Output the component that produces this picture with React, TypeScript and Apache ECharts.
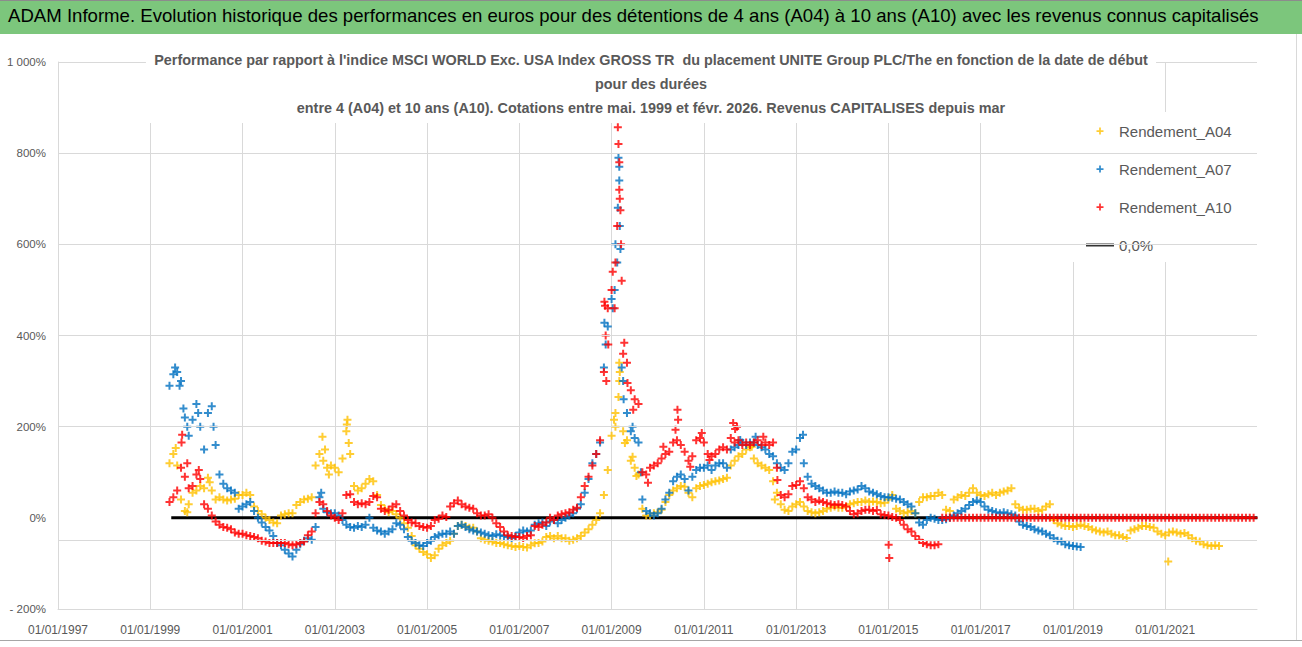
import React, { useEffect, useRef } from "react";
import * as echarts from "echarts";

// ---- Data ----
// Monthly values (%) starting June 1999
const startYear = 1999;
const startMonth = 6;

const a04Values = [
  // 1999 Jun-Dec
  120, 140, 115, 40, 15, 30, 55,
  // 2000
  60, 70, 65, 88, 60, 40, 45, 40, 38, 40, 42, 50,
  // 2001
  50, 55, 50, 25, 15, 8, 0, -5, -10, -12, 5, 8,
  // 2002
  10, 10, 28, 35, 40, 42, 45, 115, 140, 125, 110, 115,
  // 2003
  110, 100, 130, 190, 140, 70, 60, 65, 75, 85, 80, 50,
  // 2004
  28, 20, 12, 15, 8, 0, -12, -22, -40, -60, -68, -75,
  // 2005
  -80, -88, -82, -68, -60, -55, -50, -35, -18, -15, -18, -22,
  // 2006
  -22, -30, -45, -48, -50, -52, -55, -55, -58, -60, -62, -64,
  // 2007
  -62, -64, -65, -60, -56, -55, -52, -42, -40, -45, -40, -45,
  // 2008
  -45, -50, -48, -45, -40, -32, -25, -15, -5, 10, 50, 105,
  // 2009
  180, 200, 300, 190, 170, 125, 110, 95, 20, 5, 5, 10,
  // 2010
  12, 18, 35, 50, 60, 65, 70, 68, 55, 45, 65, 70,
  // 2011
  72, 75, 78, 80, 82, 85, 88, 115, 125, 135, 140, 150,
  // 2012
  155, 130, 120, 115, 110, 105, 80, 55, 30, 18, 15, 25,
  // 2013
  30, 35, 25, 15, 12, 10, 12, 15, 20, 22, 25, 22,
  // 2014
  22, 25, 30, 32, 35, 35, 38, 35, 36, 35, 32, 33,
  // 2015
  40, 50, 20, 15, 10, 12, 15, 10, 35, 45, 45, 48,
  // 2016
  48, 55, 50, 18, 15, 40, 45, 50, 48, 55, 65, 55,
  // 2017
  50, 48, 52, 55, 50, 55, 58, 60, 65, 30, 22, 18,
  // 2018
  18, 20, 20, 15, 18, 25, 30, -5, -12, -15, -18, -18,
  // 2019
  -20, -18, -15, -18, -20, -25, -28, -30, -32, -30, -35, -38,
  // 2020
  -38, -42, -44, -28, -25, -22, -18, -18, -20, -22, -30, -35,
  // 2021
  -38, -32, -30, -32, -35, -33, -38, -45, -50, -52, -58, -60,
  // 2022
  -62, -60, -62,
];

const a07Values = [
  // 1999 Jun-Dec
  290, 315, 320, 300, 220, 180, 215,
  // 2000
  250, 200, 150, 230, 245, 160, 95, 75, 65, 60, 55, 20,
  // 2001
  25, 30, 35, 15, 0, -10, -20, -28, -40, -55, -60, -70,
  // 2002
  -78, -85, -70, -58, -50, -45, -48, -20, 45, 20, 12, 10,
  // 2003
  10, 5, -5, -15, -20, -22, -18, -20, -15, 0, -22, -28,
  // 2004
  -30, -35, -30, -25, -12, -15, -25, -42, -50, -55, -60, -62,
  // 2005
  -55, -50, -42, -38, -35, -35, -30, -35, -18, -15, -20, -25,
  // 2006
  -28, -30, -32, -35, -38, -40, -36, -38, -40, -42, -44, -40,
  // 2007
  -32, -28, -30, -28, -15, -12, -10, -18, -8, -5, -12, -5,
  // 2008
  0, 5, 10, 20, 30, 55, 85, 120, 140, 165, 330, 420,
  // 2009
  480, 600, 770, 300, 230, 190, 175, 165, 40, 15, 10, 5,
  // 2010
  10, 20, 40, 55, 80, 90, 95, 85, 60, 90, 105, 110,
  // 2011
  110, 115, 105, 115, 120, 120, 110, 150, 155, 160, 165, 160,
  // 2012
  165, 165, 160, 155, 150, 140, 135, 120, 110, 105, 120, 145,
  // 2013
  150, 175, 120, 90, 75, 70, 65, 60, 55, 55, 58, 55,
  // 2014
  55, 52, 58, 60, 62, 70, 65, 58, 55, 52, 48, 45,
  // 2015
  45, 44, 42, 40, 35, 30, 25, 10, -10, -15, -5, 0,
  // 2016
  -2, -5, -5, -3, 0, 5, 10, 15, 20, 28, 35, 38,
  // 2017
  35, 25, 18, 15, 12, 10, 12, 10, 8, 5, -8, -15,
  // 2018
  -18, -20, -25, -28, -30, -35, -38, -45, -50, -52, -58, -60,
  // 2019
  -62, -63, -64,
];

const a10Values = [
  // 1999 Jun-Dec
  35, 45, 60, 110, 90, 65, 70,
  // 2000
  95, 85, 30, 20, 5, -8, -15, -20, -22, -25, -32, -35,
  // 2001
  -35, -38, -40, -42, -45, -50, -52, -55, -55, -55, -55, -55,
  // 2002
  -58, -60, -58, -55, -52, -38, -30, 10, 35, 30, 15, 5,
  // 2003
  0, -5, 10, 50, 52, 35, 30, 32, 30, 35, 48, 45,
  // 2004
  20, 15, 18, 25, 30, 15, 5, -5, -10, -12, -18, -20,
  // 2005
  -22, -18, -5, -2, 5, 2, 25, 32, 38, 30, 25, 22,
  // 2006
  20, 10, 5, 5, 8, 0, -12, -20, -30, -38, -40, -42,
  // 2007
  -42, -44, -40, -38, -18, -20, -15, -10, 0, -5, 5, 8,
  // 2008
  10, 12, 18, 22, 45, 70, 90, 115, 140, 170, 320, 460,
  // 2009
  500, 560, 780, 360, 340, 280, 260, 250, 100, 95, 110, 115,
  // 2010
  120, 130, 140, 145, 165, 170, 160, 145, 125, 135, 170, 175,
  // 2011
  165, 140, 135, 140, 150, 155, 150, 175, 165, 170, 160, 165,
  // 2012
  160, 165, 170, 160, 165, 160, 165, 110, 50, 45, 52, 70,
  // 2013
  72, 80, 65, 45, 40, 35, 38, 35, 32, 30, 28, 30,
  // 2014
  28, 25, 15, 8, 10, 15, 18, 18, 15, 17, 8, 6,
  // 2015
  5, 2, 0, -5, -15, -25, -30, -40, -48, -55, -58, -60,
  // 2016
  -60, -58, 0, 0, 0, 0, 0, 0, 0, 0, 0, 0,
  // 2017
  0, 0, 0, 0, 0, 0, 0, 0, 0, 0, 0, 0,
  // 2018
  0, 0, 0, 0, 0, 0, 0, 0, 0, 0, 0, 0,
  // 2019
  0, 0, 0, 0, 0, 0, 0, 0, 0, 0, 0, 0,
  // 2020
  0, 0, 0, 0, 0, 0, 0, 0, 0, 0, 0, 0,
  // 2021
  0, 0, 0, 0, 0, 0, 0, 0, 0, 0, 0, 0,
  // 2022
  0, 0, 0, 0, 0, 0, 0, 0, 0, 0, 0, 0,
];

// Isolated points and band edges (date, %)
const a04Extra: [string, number][] = [
  ["1999-07-20", 153], ["1999-10-20", 12], ["2000-04-15", 78],
  ["2002-09-25", 178], ["2002-10-15", 150], ["2002-11-15", 95],
  ["2003-04-05", 205], ["2003-04-10", 215], ["2003-04-20", 164],
  ["2009-01-20", 215], ["2009-02-01", 230], ["2009-02-25", 265],
  ["2009-03-01", 340], ["2009-03-05", 320], ["2009-04-15", 164],
  ["2009-06-15", 134], ["2009-07-15", 92], ["2012-01-15", 156],
  ["2012-07-15", 40], ["2021-01-25", -96],
];
const a07Extra: [string, number][] = [
  ["1999-07-15", 330], ["1999-08-20", 290], ["1999-09-20", 240],
  ["1999-10-20", 200], ["2000-01-15", 230], ["2000-05-15", 200],
  ["2002-09-15", 55], ["2008-11-05", 428], ["2008-11-15", 380],
  ["2009-01-10", 460], ["2009-01-25", 500], ["2009-02-15", 560],
  ["2009-02-20", 680], ["2009-02-25", 790], ["2009-03-01", 740],
  ["2009-03-05", 640], ["2009-03-10", 590], ["2009-03-20", 330],
  ["2009-04-05", 260], ["2009-06-15", 200], ["2009-08-20", 100],
  ["2011-10-15", 171], ["2012-02-15", 178], ["2013-02-25", 182],
];
const a10Extra: [string, number][] = [
  ["1999-09-05", 165], ["1999-09-10", 182], ["1999-10-20", 120],
  ["2000-01-20", 105], ["2008-11-05", 474], ["2008-11-10", 465],
  ["2008-11-15", 400], ["2008-11-20", 300], ["2008-12-05", 380],
  ["2009-01-10", 540], ["2009-01-25", 460], ["2009-02-15", 640],
  ["2009-02-20", 857], ["2009-02-25", 820], ["2009-03-01", 720],
  ["2009-03-05", 700], ["2009-03-10", 675], ["2009-03-15", 600],
  ["2009-03-20", 520], ["2009-04-10", 384], ["2009-05-05", 296],
  ["2009-06-20", 237], ["2009-10-15", 77], ["2010-02-15", 156],
  ["2010-05-20", 193], ["2010-06-05", 237], ["2010-06-10", 215],
  ["2010-09-15", 112], ["2010-12-15", 186], ["2011-02-15", 127],
  ["2011-08-20", 208], ["2011-09-05", 195], ["2011-09-20", 200],
  ["2012-04-15", 178], ["2012-08-05", 83], ["2015-01-03", -59],
  ["2015-01-08", -88],
];

const zeroLineDates = ["1999-06-15", "2022-12-31"];
const gridValues = [1000, 800, 600, 400, 200, -50];
const seriesNames = ["Rendement_A04", "Rendement_A07", "Rendement_A10", "0,0%"];
const seriesColors = ["#FFC000", "#0070C0", "#FF0000", "#000000"];

const chartTitle =
  "Performance par rapport à l'indice MSCI WORLD Exc. USA Index GROSS TR  du placement UNITE Group PLC/The en fonction de la date de début\npour des durées\nentre 4 (A04) et 10 ans (A10). Cotations entre mai. 1999 et févr. 2026. Revenus CAPITALISES depuis mar";
const bannerTitle =
  "ADAM Informe. Evolution historique des performances en euros pour des détentions de 4 ans (A04) à 10 ans (A10) avec les revenus connus capitalisés";

// ---- helpers ----
const monthToYear = (i: number) => startYear + (startMonth - 1 + i) / 12;
const dateToYear = (s: string) => {
  const [y, m, d] = s.split("-").map(Number);
  return y + (m - 1) / 12 + (d - 1) / 365;
};
const buildSeries = (vals: number[], extra: [string, number][]) => [
  ...vals.map((v, i) => [monthToYear(i), v]),
  ...extra.map(([d, v]) => [dateToYear(d), v]),
];

const PLUS = "path://M3,0H5V3H8V5H5V8H3V5H0V3H3Z";
const BAR_ICON = "path://M0,0H28V3H0Z";
const FONT = "'Liberation Sans', Arial, sans-serif";
const GREY = "#595959";
const GRID = "#d9d9d9";

const fmtPct = (v: number) => {
  const a = Math.abs(v);
  const s = a >= 1000 ? `${Math.floor(a / 1000)} ${String(a % 1000).padStart(3, "0")}` : `${a}`;
  return (v < 0 ? "- " : "") + s + "%";
};

export default function App() {
  const ref = useRef<HTMLDivElement>(null);
  useEffect(() => {
    if (!ref.current) return;
    const chart = echarts.init(ref.current, undefined, { renderer: "svg" });
    const scatter = (name: string, color: string, data: number[][]) => ({
      name,
      type: "scatter",
      data,
      symbol: PLUS,
      symbolSize: 8,
      itemStyle: { color },
      z: 2,
      silent: true,
    });
    chart.setOption({
      animation: false,
      backgroundColor: "#ffffff",
      graphic: [
        { type: "rect", shape: { x: 0, y: 0, width: 1302, height: 34 }, style: { fill: "#7cc67c" }, z: 0 },
        { type: "line", shape: { x1: 0, y1: 0.5, x2: 1302, y2: 0.5 }, style: { stroke: "#8c8c8c", lineWidth: 1 } },
        { type: "line", shape: { x1: 1296.5, y1: 34, x2: 1296.5, y2: 641 }, style: { stroke: GRID, lineWidth: 1 } },
        { type: "line", shape: { x1: 0, y1: 640.5, x2: 1302, y2: 640.5 }, style: { stroke: "#a6a6a6", lineWidth: 1 } },
      ],
      title: [
        {
          text: bannerTitle,
          left: 8,
          top: 6,
          padding: 0,
          textStyle: { fontFamily: FONT, fontSize: 18.6, fontWeight: "normal", color: "#000000" },
        },
        {
          text: chartTitle,
          left: "center",
          top: 48,
          padding: [0, 8, 3, 8],
          backgroundColor: "#ffffff",
          textStyle: { fontFamily: FONT, fontSize: 14.4, fontWeight: "bold", color: GREY, lineHeight: 24 },
        },
      ],
      legend: {
        orient: "vertical",
        left: 1072,
        top: 112,
        padding: [10, 22, 8, 14],
        backgroundColor: "#ffffff",
        itemWidth: 28,
        itemHeight: 7,
        itemGap: 20,
        selectedMode: false,
        textStyle: { fontFamily: FONT, fontSize: 15, color: GREY, lineHeight: 18 },
        data: [
          { name: seriesNames[0], icon: PLUS, itemStyle: { color: seriesColors[0], borderWidth: 0 } },
          { name: seriesNames[1], icon: PLUS, itemStyle: { color: seriesColors[1], borderWidth: 0 } },
          { name: seriesNames[2], icon: PLUS, itemStyle: { color: seriesColors[2], borderWidth: 0 } },
          { name: seriesNames[3], icon: BAR_ICON, itemStyle: { color: seriesColors[3], borderWidth: 0 } },
        ],
      },
      grid: { left: 58, right: 45, top: 62, bottom: 38, containLabel: false },
      xAxis: {
        type: "value",
        min: 1997,
        max: 2022.99,
        interval: 2,
        axisLine: { show: true, onZero: false, lineStyle: { color: GRID, width: 1 } },
        axisTick: { show: false },
        splitLine: { show: true, showMaxLine: false, lineStyle: { color: GRID, width: 1 } },
        axisLabel: {
          margin: 15,
          fontFamily: FONT,
          fontSize: 12,
          color: GREY,
          formatter: (v: number) =>
            Math.abs(v - Math.round(v)) < 1e-6 && (Math.round(v) - 1997) % 2 === 0 ? `01/01/${Math.round(v)}` : "",
        },
      },
      yAxis: {
        type: "value",
        min: -200,
        max: 1000,
        interval: 200,
        axisLine: { show: true, lineStyle: { color: GRID, width: 1 } },
        axisTick: { show: false },
        splitLine: { show: false },
        axisLabel: { margin: 12, fontFamily: FONT, fontSize: 11.5, color: GREY, formatter: fmtPct },
      },
      series: [
        // legend entry carrier for "0,0%" (no data; the line itself is drawn below)
        {
          name: seriesNames[3],
          type: "scatter",
          data: [],
          symbol: BAR_ICON,
          itemStyle: { color: seriesColors[3] },
          silent: true,
        },
        {
          name: "zeroLine",
          type: "line",
          data: zeroLineDates.map((d) => [dateToYear(d), 0]),
          symbol: "none",
          lineStyle: { color: seriesColors[3], width: 3 },
          itemStyle: { color: seriesColors[3] },
          z: 1,
          silent: true,
          markLine: {
            silent: true,
            symbol: ["none", "none"],
            label: { show: false },
            lineStyle: { color: GRID, width: 1, type: "solid" },
            data: gridValues.map((v) => ({ yAxis: v })),
          },
        },
        scatter(seriesNames[0], seriesColors[0], buildSeries(a04Values, a04Extra)),
        scatter(seriesNames[1], seriesColors[1], buildSeries(a07Values, a07Extra)),
        scatter(seriesNames[2], seriesColors[2], buildSeries(a10Values, a10Extra)),
      ],
    });
    return () => chart.dispose();
  }, []);
  return <div ref={ref} style={{ position: "absolute", left: 0, top: 0, width: 1302, height: 647 }} />;
}
